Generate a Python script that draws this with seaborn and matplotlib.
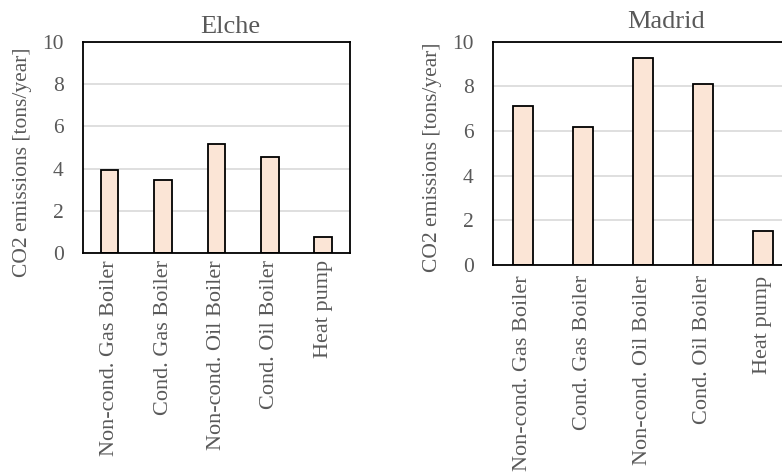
import matplotlib.pyplot as plt
import seaborn as sns
import pandas as pd

# values
categories = ['Non-cond. Gas Boiler', 'Cond. Gas Boiler', 'Non-cond. Oil Boiler',
              'Cond. Oil Boiler', 'Heat pump']
elche = [3.95, 3.45, 5.15, 4.55, 0.75]
madrid = [7.12, 6.2, 9.27, 8.1, 1.53]
yticks = [0, 2, 4, 6, 8, 10]

sns.set_style('white')
plt.rcParams['font.family'] = ['Liberation Serif', 'DejaVu Serif']

grey = '#595959'
bar_color = '#FBE5D6'

fig = plt.figure(figsize=(7.82, 4.72), dpi=100)

# axes placed by hand (right panel runs off the edge like in the original)
panels = [
    # name, values, rect, title x, title y, ylabel coords, xtick pad
    ('Elche', elche, [0.1061, 0.464, 0.3414, 0.447], 0.55, 1.043, (-0.228, 0.431), 5),
    ('Madrid', madrid, [0.6304, 0.4386, 0.3836, 0.473], 0.577, 1.061, (-0.2, 0.484), 7.5),
]

for name, values, rect, tx, ty, lab_xy, xpad in panels:
    ax = fig.add_axes(rect)
    df = pd.DataFrame({'Technology': categories, 'CO2': values})
    sns.barplot(data=df, x='Technology', y='CO2', ax=ax, color=bar_color,
                saturation=1, width=0.33, edgecolor='black', linewidth=1.3)

    ax.set_ylim(0, 10)
    ax.set_yticks(yticks)
    ax.yaxis.grid(True, color='#D9D9D9', linewidth=1.2)
    ax.set_axisbelow(True)
    for sp in ax.spines.values():
        sp.set_visible(True)
        sp.set_color('black')
        sp.set_linewidth(1.3)

    ax.tick_params(axis='y', length=0, pad=14, labelsize=15.5, labelcolor=grey)
    ax.tick_params(axis='x', length=0, pad=xpad, labelsize=16, labelcolor=grey,
                   labelrotation=90)
    ax.set_xlabel('')
    ax.set_ylabel('CO2 emissions [tons/year]', fontsize=15.5, color=grey, va='center')
    ax.yaxis.set_label_coords(*lab_xy)

    ax.text(tx, ty, name, transform=ax.transAxes, ha='center', va='baseline',
            fontsize=19, color=grey)

plt.savefig('out.png', dpi=100)
